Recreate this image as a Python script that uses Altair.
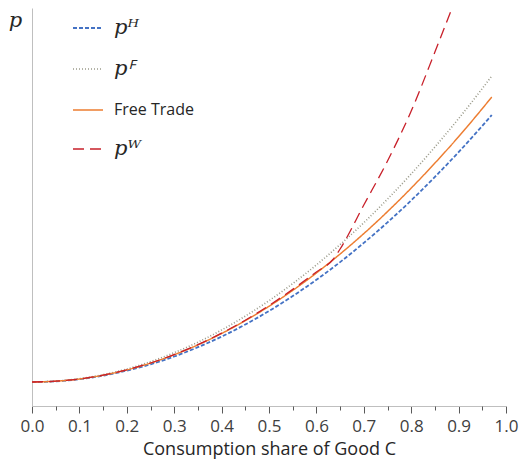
import altair as alt
import pandas as pd

# x grid (consumption share of Good C)
X = [0.0, 0.05, 0.10, 0.15, 0.20, 0.25, 0.30, 0.35, 0.40, 0.45, 0.50,
     0.55, 0.60, 0.65, 0.70, 0.75, 0.80, 0.85, 0.90, 0.95, 0.97]
P_H = [0.240, 0.247, 0.268, 0.304, 0.354, 0.417, 0.495, 0.588, 0.694, 0.815, 0.950,
       1.099, 1.262, 1.439, 1.631, 1.836, 2.056, 2.291, 2.539, 2.801, 2.910]
P_F = [0.240, 0.248, 0.273, 0.313, 0.370, 0.443, 0.533, 0.638, 0.760, 0.899, 1.053,
       1.224, 1.411, 1.614, 1.833, 2.069, 2.321, 2.590, 2.874, 3.175, 3.300]
FREE = [0.240, 0.248, 0.270, 0.308, 0.361, 0.429, 0.513, 0.611, 0.725, 0.853, 0.997,
        1.156, 1.330, 1.520, 1.724, 1.944, 2.179, 2.429, 2.693, 2.974, 3.090]
XW = [0.0, 0.05, 0.10, 0.15, 0.20, 0.25, 0.30, 0.35, 0.40, 0.45, 0.50,
      0.55, 0.60, 0.635, 0.65, 0.70, 0.75, 0.80, 0.85, 0.90]
P_W = [0.240, 0.248, 0.270, 0.308, 0.362, 0.430, 0.514, 0.613, 0.728, 0.858, 1.005,
       1.166, 1.341, 1.465, 1.57, 2.01, 2.45, 2.95, 3.54, 4.15]

NAMES = ["pᴴ", "pꟳ", "Free Trade", "pᵂ"]
COLORS = ["#4472C4", "#9A9A8A", "#ED7D31", "#C8202A"]
DASHES = [[4, 2], [1, 2], [1, 0], [11, 6]]
WIDTHS = [1.8, 1.3, 2.0, 2.0]
MAJOR = [0.0, 0.1, 0.2, 0.3, 0.4, 0.5, 0.6, 0.7, 0.8, 0.9, 1.0]
MINOR = [0.05, 0.15, 0.25, 0.35, 0.45, 0.55, 0.65, 0.75, 0.85, 0.95]

rows = []
for xs, ys, name in [(X, P_H, NAMES[0]), (X, P_F, NAMES[1]), (X, FREE, NAMES[2]), (XW, P_W, NAMES[3])]:
    for xv, yv in zip(xs, ys):
        rows.append({"x": xv, "p": yv, "series": name})
df = pd.DataFrame(rows)

legend = alt.Legend(
    title=None, orient="none", legendX=40, legendY=4, padding=0,
    symbolType="stroke", symbolSize=900, rowPadding=15, labelOffset=10,
    labelColor="#262626",
    labelFont=alt.ExprRef("datum.label == 'Free Trade' ? 'Open Sans' : 'DejaVu Serif'"),
    labelFontStyle=alt.ExprRef("datum.label == 'Free Trade' ? 'normal' : 'italic'"),
    labelFontSize=alt.ExprRef("datum.label == 'Free Trade' ? 16 : 21"),
)

xscale = alt.Scale(domain=[0, 1], nice=False, zero=False)
yscale = alt.Scale(domain=[0, 3.98], nice=False)

lines = alt.Chart(df).mark_line(clip=True, interpolate="monotone").encode(
    x=alt.X("x:Q", scale=xscale,
            axis=alt.Axis(values=MAJOR, format=".1f", tickSize=7, tickColor="#595959",
                          domainColor="#BFBFBF", grid=False, labelFont="Open Sans",
                          labelFontSize=17, labelColor="#404040", labelPadding=5,
                          labelFlush=False, labelOverlap=False,
                          title="Consumption share of Good C", titleFont="Open Sans",
                          titleFontSize=18, titleFontWeight="normal", titleColor="#262626",
                          titlePadding=6)),
    y=alt.Y("p:Q", scale=yscale,
            axis=alt.Axis(ticks=False, labels=False, grid=False, domainColor="#BFBFBF",
                          title="p", titleAngle=0, titleFont="DejaVu Serif",
                          titleFontStyle="italic", titleFontWeight="normal",
                          titleFontSize=21, titleColor="#262626", titleX=-17, titleY=12,
                          titleAlign="center", titleBaseline="middle")),
    color=alt.Color("series:N", scale=alt.Scale(domain=NAMES, range=COLORS), legend=legend),
    strokeDash=alt.StrokeDash("series:N", scale=alt.Scale(domain=NAMES, range=DASHES), legend=legend),
    strokeWidth=alt.StrokeWidth("series:N", scale=alt.Scale(domain=NAMES, range=WIDTHS), legend=legend),
)

minor_df = pd.DataFrame({"x": MINOR})
minor = alt.Chart(minor_df).mark_point(opacity=0).encode(
    x=alt.X("x:Q", scale=xscale,
            axis=alt.Axis(orient="bottom", values=MINOR, tickSize=4, tickColor="#595959",
                          labels=False, domain=False, grid=False, title=None)),
)

chart = alt.layer(lines, minor).resolve_axis(x="independent").properties(
    width=474, height=398,
    autosize=alt.AutoSizeParams(type="none"),
    padding={"left": 24, "top": 0, "right": 13, "bottom": 54},
).configure_view(stroke=None)

chart.save("out.html", embed_options={"renderer": "svg", "actions": False})
